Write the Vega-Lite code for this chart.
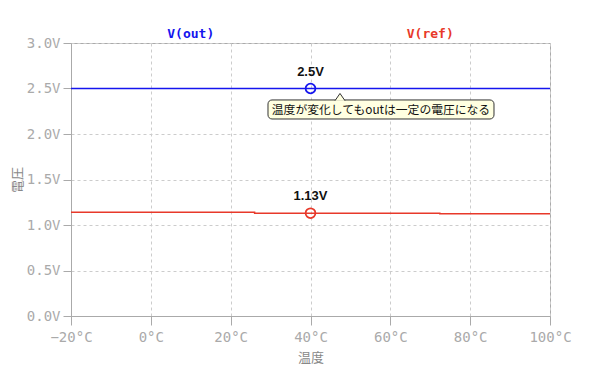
{
  "$schema": "https://vega.github.io/schema/vega-lite/v6.json",
  "width": 479,
  "height": 273,
  "autosize": {"type": "none"},
  "padding": {"left": 71, "top": 43, "right": 50, "bottom": 54},
  "background": "white",
  "config": {
    "view": {"stroke": "#aaaaaa", "strokeWidth": 1},
    "axis": {
      "domainColor": "#aaaaaa",
      "tickColor": "#aaaaaa",
      "tickSize": 9,
      "gridColor": "#cccccc",
      "gridDash": [3, 3],
      "labelFont": "DejaVu Sans Mono",
      "labelFontSize": 14,
      "labelColor": "#aaaaaa",
      "labelPadding": 5,
      "labelFlush": false,
      "labelOverlap": false,
      "titleFont": "Noto Sans CJK JP",
      "titleFontSize": 13,
      "titleFontWeight": "normal",
      "titleColor": "#888888"
    }
  },
  "layer": [
    {
      "data": {"values": [
        {"series": "V(out)", "temp": -20, "v": 2.5},
        {"series": "V(out)", "temp": 100, "v": 2.5},
        {"series": "V(ref)", "temp": -20, "v": 1.14},
        {"series": "V(ref)", "temp": 26, "v": 1.13},
        {"series": "V(ref)", "temp": 72.4, "v": 1.125},
        {"series": "V(ref)", "temp": 100, "v": 1.125}
      ]},
      "mark": {"type": "line", "interpolate": "step-after", "strokeWidth": 1.5},
      "encoding": {
        "x": {"field": "temp", "type": "quantitative", "scale": {"domain": [-20, 100], "nice": false, "zero": false},
          "axis": {"values": [-20, 0, 20, 40, 60, 80, 100], "title": "温度", "titlePadding": 7,
            "labelExpr": "format(datum.value, 'd') + '°C'"}},
        "y": {"field": "v", "type": "quantitative", "scale": {"domain": [0, 3], "nice": false},
          "axis": {"values": [0, 0.5, 1, 1.5, 2, 2.5, 3], "title": "電圧", "titlePadding": 2, "labelPadding": 3, "tickSize": 8,
            "labelExpr": "format(datum.value, '.1f') + 'V'"}},
        "color": {"field": "series", "type": "nominal",
          "scale": {"domain": ["V(out)", "V(ref)"], "range": ["#1515ee", "#e8392a"]}, "legend": null}
      }
    },
    {
      "data": {"values": [
        {"series": "V(out)", "temp": 40, "v": 2.5, "label": "2.5V"},
        {"series": "V(ref)", "temp": 40, "v": 1.13, "label": "1.13V"}
      ]},
      "layer": [
        {
          "mark": {"type": "point", "shape": "circle", "size": 95, "strokeWidth": 1.8, "filled": false, "opacity": 1},
          "encoding": {
            "x": {"field": "temp", "type": "quantitative"},
            "y": {"field": "v", "type": "quantitative"},
            "color": {"field": "series", "type": "nominal", "legend": null}
          }
        },
        {
          "mark": {"type": "text", "font": "Liberation Sans", "fontSize": 13, "fontWeight": "bold", "color": "#111111", "baseline": "alphabetic", "dy": -13},
          "encoding": {
            "x": {"field": "temp", "type": "quantitative"},
            "y": {"field": "v", "type": "quantitative"},
            "text": {"field": "label"}
          }
        }
      ]
    },
    {
      "data": {"values": [
        {"series": "V(out)", "temp": 10, "v": 3},
        {"series": "V(ref)", "temp": 70, "v": 3}
      ]},
      "mark": {"type": "text", "font": "DejaVu Sans Mono", "fontSize": 13, "fontWeight": "bold", "baseline": "middle", "dy": -9},
      "encoding": {
        "x": {"field": "temp", "type": "quantitative"},
        "y": {"field": "v", "type": "quantitative"},
        "text": {"field": "series"},
        "color": {"field": "series", "type": "nominal", "legend": null}
      }
    },
    {
      "data": {"values": [
        {"x1": 29.35, "x2": 85.97, "y1": 2.374, "y2": 2.165}
      ]},
      "mark": {"type": "rect", "fill": "#ffffe1", "stroke": "#333333", "strokeWidth": 1, "cornerRadius": 4},
      "encoding": {
        "x": {"field": "x1", "type": "quantitative"},
        "x2": {"field": "x2"},
        "y": {"field": "y1", "type": "quantitative"},
        "y2": {"field": "y2"}
      }
    },
    {
      "data": {"values": [
        {"temp": 47.39, "v": 2.374}
      ]},
      "mark": {"type": "point", "shape": "M-1,0.15L0,-1.3L1,0.15", "size": 100, "filled": true, "fill": "#ffffe1", "stroke": "#333333", "strokeWidth": 1, "opacity": 1, "fillOpacity": 1, "strokeOpacity": 1},
      "encoding": {
        "x": {"field": "temp", "type": "quantitative"},
        "y": {"field": "v", "type": "quantitative"}
      }
    },
    {
      "data": {"values": [
        {"temp": 57.66, "v": 2.269, "note": "温度が変化してもoutは一定の電圧になる"}
      ]},
      "mark": {"type": "text", "font": "Noto Sans CJK JP", "fontSize": 11.8, "color": "#111111", "baseline": "middle", "align": "center"},
      "encoding": {
        "x": {"field": "temp", "type": "quantitative"},
        "y": {"field": "v", "type": "quantitative"},
        "text": {"field": "note"}
      }
    }
  ]
}
